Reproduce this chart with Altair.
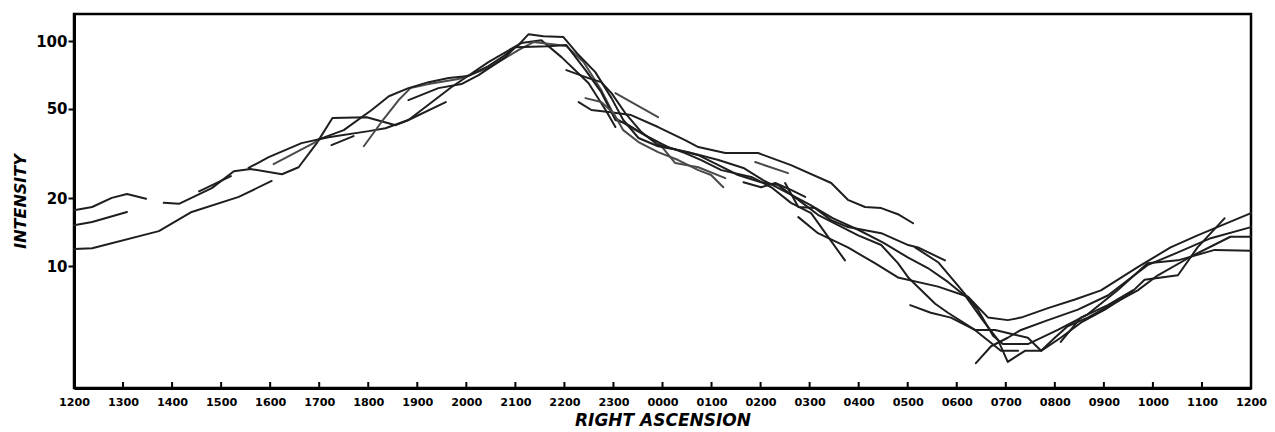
import altair as alt
import pandas as pd

# ---------------- data (RA in hours after 1200, intensity) ----------------
x_tick_labels = ["1200", "1300", "1400", "1500", "1600", "1700", "1800", "1900",
                 "2000", "2100", "2200", "2300", "0000", "0100", "0200", "0300",
                 "0400", "0500", "0600", "0700", "0800", "0900", "1000", "1100", "1200"]
y_tick_values = [10, 20, 50, 100]

scan_a = [(0, 17.7), (0.37, 18.3), (0.77, 20.1), (1.08, 20.9), (1.47, 19.9)]
scan_b = [(0, 15.2), (0.37, 15.7), (1.08, 17.4)]
scan_c = [(0, 11.9), (0.37, 12.0), (1.73, 14.3), (2.4, 17.4), (3.36, 20.3), (4.03, 23.9)]
scan_d = [(1.83, 19.1), (2.14, 18.9), (2.81, 22.2), (3.26, 26.4), (3.6, 27.0), (4.24, 25.6),
          (4.58, 27.5), (4.95, 35.2), (5.27, 45.5), (5.97, 45.9), (6.56, 42.3), (6.82, 44.6),
          (7.7, 62.5), (8.45, 80.7), (9.12, 98), (9.53, 101), (9.94, 84.9), (10.49, 65.1),
          (10.84, 49.4), (11.04, 41.5)]
scan_e = [(2.55, 21.5), (3.2, 25.1)]
scan_f = [(3.56, 27.3), (3.97, 30.5), (4.64, 35.2), (5.19, 37.4), (6.01, 39.8), (6.35, 41.0),
          (6.82, 44.6), (7.58, 53.6)]
scan_g = [(4.07, 28.4), (5.0, 36.3)]
scan_h = [(5.25, 34.5), (5.7, 37.8)]
scan_i = [(5.91, 34.1), (6.27, 43.7), (6.62, 54.7), (6.86, 61.8), (7.23, 64.4), (7.84, 67.8),
          (8.45, 75.9), (9.06, 91.2), (9.37, 99), (9.88, 96), (10.04, 95), (10.39, 80.7),
          (10.75, 60.6), (11.04, 45.5), (11.45, 40.2), (11.91, 35.6), (12.26, 28.7),
          (12.73, 27.5), (13.28, 24.6)]
scan_j = [(4.95, 36.3), (5.5, 40.2), (6.07, 49.4), (6.42, 56.9), (6.82, 61.8), (7.23, 65.7),
          (7.64, 68.5), (8.04, 69.9), (8.45, 77.4), (8.76, 85.8), (9.06, 96), (9.27, 107.4),
          (9.57, 105.2), (9.98, 104.2), (10.29, 86.7), (10.63, 72.8), (10.96, 55.8),
          (11.2, 44.6), (11.51, 37.1), (11.91, 34.1), (12.53, 32.1), (13.14, 29.6),
          (13.65, 27.3), (14.05, 24.1), (14.56, 21.1), (15.01, 18.7), (15.48, 16.3),
          (15.99, 14.5), (16.5, 12.7), (17.01, 10.9), (17.41, 9.8), (17.82, 8.5),
          (18.19, 7.3), (18.53, 5.75), (18.84, 4.7), (19.04, 3.75), (19.39, 4.2),
          (19.72, 4.2), (20.12, 4.8), (20.53, 5.6), (21.02, 6.4), (21.55, 7.6),
          (21.83, 8.7), (22.51, 9.1), (22.91, 12.1), (23.46, 16.3)]
scan_k = [(6.82, 54.7), (7.43, 61.8), (7.9, 64.4), (8.25, 70.6), (8.8, 84.9), (9.0, 94),
          (9.67, 95), (10.04, 96), (10.43, 74.3), (10.75, 59.3), (11.04, 44.6), (11.24, 43.2),
          (11.71, 37.4), (12.12, 33.8), (12.46, 31.8), (12.79, 29.6), (13.2, 26.7),
          (13.81, 24.9), (14.22, 22.4), (14.62, 19.1), (15.03, 17.2), (15.72, 10.6)]
scan_l = [(10.29, 53.6), (10.55, 49.4), (10.9, 48.4), (11.36, 46.9), (11.91, 41.5),
          (12.46, 36.3), (12.73, 33.8), (13.28, 31.8), (13.95, 31.8), (14.62, 28.1),
          (15.44, 23.4), (15.78, 19.7), (16.13, 18.3), (16.46, 18.1), (16.8, 17.0), (17.11, 15.5)]
scan_m = [(10.04, 74.3), (10.49, 68.5), (10.75, 65.7), (10.96, 58.7), (11.24, 47.9),
          (11.57, 39.4), (11.91, 34.5), (12.32, 32.8), (12.73, 31.1), (13.14, 28.1),
          (13.54, 25.4), (14.01, 23.6), (14.36, 22.9), (14.77, 19.7), (15.17, 16.9),
          (15.58, 15.2), (15.99, 13.7), (16.46, 12.4), (16.8, 10.3), (17.01, 8.9),
          (17.56, 6.8), (17.82, 6.2), (18.37, 5.2), (18.9, 4.2), (19.25, 4.2)]
scan_n = [(10.43, 55.8), (10.75, 53.6), (11.0, 47.9), (11.2, 40.2), (11.51, 35.6),
          (11.91, 32.1), (12.32, 29.6), (12.73, 26.7), (12.99, 25.4), (13.24, 22.4)]
scan_o = [(11.04, 58.7), (11.91, 45.9)]
scan_p = [(13.65, 23.6), (14.01, 22.4), (14.3, 23.4), (14.62, 21.8), (14.91, 20.3)]
scan_q = [(13.89, 29.0), (14.56, 25.9)]
scan_r = [(14.5, 23.4), (14.77, 18.3), (15.11, 18.1), (15.44, 16.0), (15.78, 14.9),
          (16.46, 14.0), (17.01, 12.4), (17.21, 12.1), (17.76, 10.6)]
scan_s = [(14.77, 16.5), (15.17, 14.0), (15.78, 12.1), (16.33, 10.3), (16.8, 8.9),
          (17.62, 8.1), (18.23, 7.3), (18.64, 5.9), (19.04, 5.75), (19.31, 5.9),
          (19.86, 6.5), (20.41, 7.1), (20.94, 7.8), (21.69, 9.9), (22.36, 12.1),
          (22.91, 13.7), (24.0, 17.2)]
scan_t = [(17.05, 6.7), (17.47, 6.2), (17.88, 5.9), (18.37, 5.2), (18.78, 5.2), (19.1, 5.0),
          (19.45, 4.8), (19.72, 4.2), (20.0, 4.8), (20.26, 5.4), (20.67, 5.9), (21.08, 6.6),
          (21.69, 7.8), (22.1, 9.1), (22.77, 11.0), (23.58, 13.5), (24.0, 13.5)]
scan_u = [(18.39, 3.7), (18.7, 4.4), (19.04, 4.8), (19.31, 5.2), (19.86, 5.75), (20.47, 6.4),
          (21.08, 7.4), (21.89, 10.1), (22.51, 11.5), (23.18, 13.3), (24.0, 14.9)]
scan_v = [(17.15, 12.1), (17.62, 10.4), (18.02, 8.2), (18.43, 6.4), (18.74, 4.9),
          (18.94, 4.5), (19.45, 4.5), (20.06, 5.2), (20.67, 6.1), (21.28, 7.8),
          (21.89, 10.3), (22.51, 10.6), (23.26, 11.8), (24.0, 11.7)]
scan_w = [(20.12, 4.6), (20.53, 5.9), (21.08, 6.7), (21.59, 7.8)]

scans = {
    "a": scan_a, "b": scan_b, "c": scan_c, "d": scan_d, "e": scan_e, "f": scan_f,
    "g": scan_g, "h": scan_h, "i": scan_i, "j": scan_j, "k": scan_k, "l": scan_l,
    "m": scan_m, "n": scan_n, "o": scan_o, "p": scan_p, "q": scan_q, "r": scan_r,
    "s": scan_s, "t": scan_t, "u": scan_u, "v": scan_v, "w": scan_w,
}
light_scans = {"i", "n", "o", "q", "g"}

rows = []
for name, pts in scans.items():
    shade = "#4a4a4a" if name in light_scans else "#1e1e1e"
    for k, (ra, val) in enumerate(pts):
        rows.append({"scan": name, "k": k, "ra": ra, "intensity": val, "shade": shade})
df = pd.DataFrame(rows)

W, H = 1177, 374
FONT = "DejaVu Sans"

label_expr = "[" + ",".join("'%s'" % s for s in x_tick_labels) + "][round(datum.value)]"

x_enc = alt.X(
    "ra:Q",
    scale=alt.Scale(domain=[0, 24], nice=False, zero=False),
    axis=alt.Axis(
        values=list(range(25)), labelExpr=label_expr, ticks=False, grid=False,
        domainColor="black", domainWidth=3, labelFont=FONT, labelFontSize=11.2,
        labelFontWeight="bold", labelColor="black", labelPadding=8,
        title="RIGHT ASCENSION", titleFont=FONT, titleFontSize=17,
        titleFontWeight="bold", titleFontStyle="italic", titleColor="black",
        titlePadding=5, labelFlush=False, labelOverlap=False,
    ),
)
y_enc = alt.Y(
    "intensity:Q",
    scale=alt.Scale(type="log", domain=[2.87, 132], nice=False),
    axis=alt.Axis(
        values=y_tick_values, format="d", grid=False, domainColor="black",
        domainWidth=3, tickColor="black", tickSize=6, tickWidth=2,
        labelFont=FONT, labelFontSize=15, labelFontWeight="bold", labelColor="black",
        labelPadding=1, title="INTENSITY", titleFont=FONT, titleFontSize=16,
        titleFontWeight="bold", titleFontStyle="italic", titleColor="black",
        titlePadding=7,
    ),
)

lines = alt.Chart(df).mark_line(strokeWidth=2, strokeJoin="round", strokeCap="round").encode(
    x=x_enc,
    y=y_enc,
    detail="scan:N",
    order="k:Q",
    color=alt.Color("shade:N", scale=None),
)

tick_df = pd.DataFrame({"ra": list(range(1, 24))})
ticks = alt.Chart(tick_df).mark_rule(color="black", strokeWidth=2).encode(
    x=alt.X("ra:Q"),
    y=alt.value(H),
    y2=alt.value(H - 6),
)

chart = (
    alt.layer(lines, ticks)
    .properties(
        width=W, height=H,
        autosize=alt.AutoSizeParams(type="none"),
        padding={"left": 66, "top": 6, "right": 16, "bottom": 42},
        background="white",
    )
    .configure_view(stroke="black", strokeWidth=2.5)
)

chart.save("out.html", embed_options={"renderer": "svg", "actions": False})
